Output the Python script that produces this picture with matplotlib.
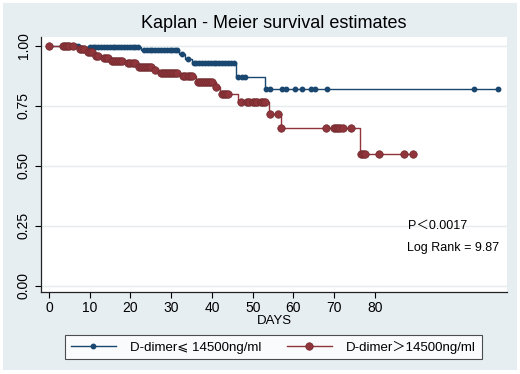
import numpy as np
import matplotlib
matplotlib.use("Agg")
import matplotlib.pyplot as plt
from matplotlib.patches import Rectangle

# step curves: time of each drop and survival after it
lo_times = [0, 8, 22.5, 32, 33.5, 35, 45.8, 53, 110.3]
lo_surv = [1.0, 0.993, 0.982, 0.965, 0.945, 0.927, 0.87, 0.82, 0.82]
lo_censor = [5, 5.5, 6, 6.5, 7, 10, 10.7, 11.4, 12.1, 12.8, 13.5, 14.2, 14.9,
             15.6, 16.3, 17, 17.7, 18.4, 19.1, 19.8, 20.5, 21.2, 21.9, 23.3,
             24, 24.7, 25.4, 26.1, 26.8, 27.5, 28.2, 28.9, 29.6, 30.3, 31,
             31.5, 32.6, 34, 35.5, 36.2, 36.9, 37.6, 38.3, 39, 39.7, 40.4,
             41.1, 41.8, 42.5, 43.2, 43.9, 44.6, 45.3, 46.5, 47.3, 48, 53.3,
             54.3, 57.2, 58.2, 60.4, 62.2, 64.3, 65.4, 68.2, 104.4, 110.3]

hi_times = [0, 7, 9, 11, 13, 15, 19, 21.5, 25.5, 27, 32.5, 36, 41, 42, 46.5,
            54, 57, 76.3, 89.4]
hi_surv = [1.0, 0.985, 0.972, 0.958, 0.948, 0.938, 0.927, 0.913, 0.9, 0.888,
           0.872, 0.85, 0.828, 0.80, 0.767, 0.717, 0.658, 0.549, 0.549]
hi_censor = [0, 3.5, 4, 4.5, 5, 6, 7.5, 8, 8.5, 9.5, 10, 10.5, 11.5, 12, 13.5,
             14, 14.5, 15.5, 16, 16.5, 17, 17.5, 18, 19.5, 20, 20.5, 21, 22,
             22.5, 23, 23.5, 24, 24.5, 25, 26, 27.5, 28, 28.5, 29, 29.5, 30,
             30.5, 31, 31.5, 33, 33.5, 34, 34.5, 35, 36.5, 37, 37.5, 38, 38.5,
             39, 39.5, 40, 41, 42.5, 43, 43.5, 44, 47, 48.5, 49, 50, 50.5, 51,
             52, 52.5, 53, 54.2, 56.2, 57, 68, 70, 70.5, 71, 71.5, 72.2, 74,
             76.5, 77, 77.5, 81, 87.2, 89.4]

labels = ["D-dimer\u2a7d 14500ng/ml", "D-dimer\uff1e14500ng/ml"]
xticks = [0, 10, 20, 30, 40, 50, 60, 70, 80]
yticks = [0, 0.25, 0.5, 0.75, 1.0]

blue = "#1a476f"
red = "#90353b"
bg = "#e6eef2"
fonts = ["Liberation Sans", "Noto Sans CJK SC", "DejaVu Sans"]
plt.rcParams["font.family"] = fonts


def at(times, surv, c):
    idx = np.searchsorted(times, c, side="right") - 1
    return np.array(surv)[np.clip(idx, 0, len(surv) - 1)]


fig = plt.figure(figsize=(5.2, 3.74), dpi=100)
fig.patch.set_facecolor("white")
fig.add_artist(Rectangle((3 / 520, 4 / 374), 514 / 520, 367 / 374,
                         transform=fig.transFigure, facecolor=bg,
                         edgecolor="none", zorder=-5))

ax = fig.add_axes([41 / 520, 1 - 292 / 374, 466 / 520, 255 / 374])
ax.set_facecolor("white")

ax.step(lo_times, lo_surv, where="post", color=blue, lw=1.0, zorder=3)
ax.plot(lo_censor, at(lo_times, lo_surv, lo_censor), "o", color=blue,
        ms=3.2, mec=blue, zorder=3)
ax.step(hi_times, hi_surv, where="post", color=red, lw=1.0, zorder=4)
ax.plot(hi_censor, at(hi_times, hi_surv, hi_censor), "o", color=red,
        ms=5.4, mec="#6e2a2e", mew=0.5, zorder=4)

ax.set_xlim(-1.96, 112.4)
ax.set_ylim(-0.026, 1.036)
ax.set_xticks(xticks)
ax.set_yticks(yticks)
ax.set_yticklabels(["%.2f" % v for v in yticks], rotation=90, va="center")
ax.tick_params(labelsize=10, length=4, width=0.8, colors="black")
ax.tick_params(axis="x", pad=2.5)
ax.yaxis.grid(True, color="#e4ecef", lw=1.0)
ax.set_axisbelow(True)
for s in ["top", "right"]:
    ax.spines[s].set_visible(False)
for s in ["left", "bottom"]:
    ax.spines[s].set_color("#222222")
    ax.spines[s].set_linewidth(0.9)
ax.set_xlabel("DAYS", fontsize=9.5, labelpad=0)

ax.text(88.1, 0.249, "P\uff1c0.0017", fontsize=9, va="center", ha="left")
ax.text(87.9, 0.157, "Log Rank = 9.87", fontsize=9, va="center", ha="left")

fig.text(0.526, 1 - 24 / 374, "Kaplan - Meier survival estimates",
         fontsize=13, ha="center", va="center")

h1, = ax.plot([], [], "-o", color=blue, ms=3.2, lw=1.0)
h2, = ax.plot([], [], "-o", color=red, ms=5.4, mec="#6e2a2e", mew=0.5, lw=1.0)
leg = fig.legend([h1, h2], labels, loc="center",
                 bbox_to_anchor=(273.5 / 520, 1 - 347 / 374), ncol=2,
                 fontsize=9.5, frameon=True, fancybox=False,
                 handlelength=3.4, handletextpad=1.1, columnspacing=1.9,
                 borderpad=0.45)
leg.get_frame().set_edgecolor("#222222")
leg.get_frame().set_linewidth(0.8)

fig.savefig("out.png", dpi=100, facecolor=fig.get_facecolor())
